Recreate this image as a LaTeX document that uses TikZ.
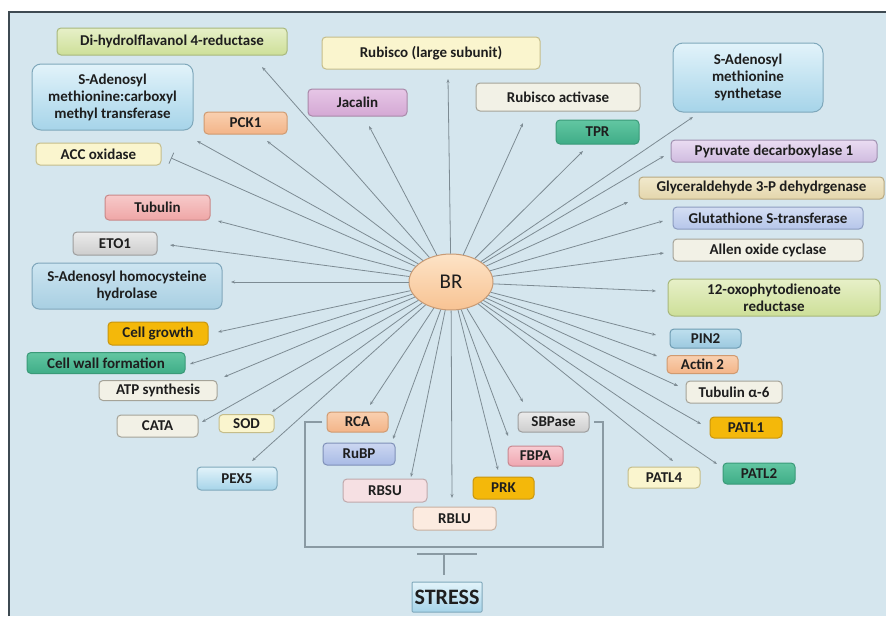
\documentclass[tikz,border=0pt]{standalone}
\usepackage{fontspec}
\setmainfont{Carlito}
\usetikzlibrary{arrows.meta,shapes.geometric}

% palette
\definecolor{bgblue}{HTML}{D5E6EE}
\definecolor{framec}{HTML}{3E4A52}
\definecolor{linec}{HTML}{7D8B93}
\definecolor{txt}{HTML}{1E1E1E}
\definecolor{brkc}{HTML}{8A9AA3}
\definecolor{grnT}{HTML}{E7F0C8}\definecolor{grnB}{HTML}{CDDF98}\definecolor{grnD}{HTML}{A8B87C}
\definecolor{bluT}{HTML}{E2F3FA}\definecolor{bluB}{HTML}{A6D4E9}\definecolor{bluD}{HTML}{7FA8BB}
\definecolor{orgT}{HTML}{F9D0B0}\definecolor{orgB}{HTML}{F3B488}\definecolor{orgD}{HTML}{D09A70}
\definecolor{yelF}{HTML}{FAF5CE}\definecolor{yelD}{HTML}{C5BD8A}
\definecolor{pnkT}{HTML}{F7CACA}\definecolor{pnkB}{HTML}{EFA6A6}\definecolor{pnkD}{HTML}{C98888}
\definecolor{gryT}{HTML}{EBEBEB}\definecolor{gryB}{HTML}{CDCDCD}\definecolor{gryD}{HTML}{9D9D9D}
\definecolor{skyT}{HTML}{CDE5F1}\definecolor{skyB}{HTML}{A8CFE2}\definecolor{skyD}{HTML}{7FA6BB}
\definecolor{gldF}{HTML}{F4B80A}\definecolor{gldD}{HTML}{C8950E}
\definecolor{tlT}{HTML}{62C6A2}\definecolor{tlB}{HTML}{3FAD87}\definecolor{tlD}{HTML}{3A9A78}
\definecolor{whtF}{HTML}{F2F1E6}\definecolor{whtD}{HTML}{A5A398}
\definecolor{lilT}{HTML}{E6C6E6}\definecolor{lilB}{HTML}{D4A8D4}\definecolor{lilD}{HTML}{A888A8}
\definecolor{vioT}{HTML}{EADCF2}\definecolor{vioB}{HTML}{D0BCE0}\definecolor{vioD}{HTML}{A090B0}
\definecolor{tanT}{HTML}{F1E9CC}\definecolor{tanB}{HTML}{E4D6AC}\definecolor{tanD}{HTML}{B8A880}
\definecolor{perT}{HTML}{D4DEF3}\definecolor{perB}{HTML}{B6C6EA}\definecolor{perD}{HTML}{8C9CC0}
\definecolor{pinT}{HTML}{BEDFEE}\definecolor{pinB}{HTML}{9CC9DF}\definecolor{pinD}{HTML}{6E9CB2}
\definecolor{lvbT}{HTML}{CCD7F1}\definecolor{lvbB}{HTML}{A8BAE5}\definecolor{lvbD}{HTML}{7F90B8}
\definecolor{rosT}{HTML}{F8CCD2}\definecolor{rosB}{HTML}{EFA6B0}\definecolor{rosD}{HTML}{C88890}
\definecolor{blsF}{HTML}{F6E0E3}\definecolor{blsD}{HTML}{C0A8AB}
\definecolor{pchF}{HTML}{FCEBE0}\definecolor{pchD}{HTML}{C8B0A0}
\definecolor{hubT}{HTML}{FDE3C6}\definecolor{hubB}{HTML}{F8C393}\definecolor{hubD}{HTML}{C89A74}

\tikzset{
  bx/.style={rounded corners=4pt, line width=1pt, align=center, inner sep=0pt,
             text=txt, font=\bfseries\fontsize{15}{17}\selectfont},
  cgreen/.style={top color=grnT, bottom color=grnB, draw=grnD},
  cblue/.style={top color=bluT, bottom color=bluB, draw=bluD},
  corange/.style={top color=orgT, bottom color=orgB, draw=orgD},
  cyellow/.style={fill=yelF, draw=yelD},
  cpink/.style={top color=pnkT, bottom color=pnkB, draw=pnkD},
  cgray/.style={top color=gryT, bottom color=gryB, draw=gryD},
  csky/.style={top color=skyT, bottom color=skyB, draw=skyD},
  cgold/.style={fill=gldF, draw=gldD},
  cteal/.style={top color=tlT, bottom color=tlB, draw=tlD},
  cwhite/.style={fill=whtF, draw=whtD},
  clilac/.style={top color=lilT, bottom color=lilB, draw=lilD},
  cviolet/.style={top color=vioT, bottom color=vioB, draw=vioD},
  ctan/.style={top color=tanT, bottom color=tanB, draw=tanD},
  cperi/.style={top color=perT, bottom color=perB, draw=perD},
  cpin/.style={top color=pinT, bottom color=pinB, draw=pinD},
  clavb/.style={top color=lvbT, bottom color=lvbB, draw=lvbD},
  crose/.style={top color=rosT, bottom color=rosB, draw=rosD},
  cblush/.style={fill=blsF, draw=blsD},
  cpeach/.style={fill=pchF, draw=pchD},
  conn/.style={draw=linec, line width=0.8pt, -{Stealth[length=4pt,width=3pt]}},
  inhib/.style={draw=linec, line width=0.8pt, -{Bar[width=12pt,line width=0.8pt]}},
  brk/.style={draw=brkc, line width=1.1pt},
}

\begin{document}
\begin{tikzpicture}[x=1pt,y=-1pt]
% page and panel
\fill[white] (0,0) rectangle (886,616);
\useasboundingbox (0,0) rectangle (886,616);
\fill[bgblue] (9,12) rectangle (886,616);
\draw[framec, line width=1.2pt] (9,616) -- (9,12) -- (886,12);

% hub
\node[ellipse, minimum width=84pt, minimum height=56pt, inner sep=0pt,
      top color=hubT, bottom color=hubB, draw=hubD, line width=1pt,
      font=\fontsize{21}{24}\selectfont, text=txt] (BR) at (451,282) {BR};

% targets, left side
\node[bx,cgreen, minimum width=230pt, minimum height=27pt] (dhfr) at (172,41.5) {Di-hydrolflavanol 4-reductase};
\node[bx,cblue, minimum width=161pt, minimum height=66pt, rounded corners=9pt] (samt) at (112.5,97) {S-Adenosyl\\methionine:carboxyl\\methyl transferase};
\node[bx,corange, minimum width=83pt, minimum height=22pt] (pck) at (245.5,123) {PCK1};
\node[bx,cyellow, minimum width=125pt, minimum height=22pt] (acc) at (98.5,154) {ACC oxidase};
\node[bx,cpink, minimum width=105pt, minimum height=25pt] (tub) at (157.5,207.5) {Tubulin};
\node[bx,cgray, minimum width=84pt, minimum height=23pt] (eto) at (115,243.5) {ETO1};
\node[bx,csky, minimum width=190pt, minimum height=46pt, rounded corners=7pt] (sahh) at (127,286) {S-Adenosyl homocysteine\\hydrolase};
\node[bx,cgold, minimum width=100pt, minimum height=23pt] (cg) at (158,333.5) {Cell growth};
\node[bx,cteal, minimum width=158pt, minimum height=21pt] (cw) at (106,363) {Cell wall formation};
\node[bx,cwhite, minimum width=118pt, minimum height=20pt] (atp) at (158,390.5) {ATP synthesis};
\node[bx,cwhite, minimum width=81pt, minimum height=22pt] (cata) at (157.5,426) {CATA};
\node[bx,cyellow, minimum width=55pt, minimum height=18pt] (sod) at (246.5,423.5) {SOD};
\node[bx,cblue, minimum width=80pt, minimum height=23pt] (pex) at (237,478.5) {PEX5};

% targets, top
\node[bx,cyellow, minimum width=218pt, minimum height=32pt] (rl) at (431,53) {Rubisco (large subunit)};
\node[bx,clilac, minimum width=99pt, minimum height=27pt] (jac) at (357.5,102.5) {Jacalin};
\node[bx,cwhite, minimum width=164pt, minimum height=28pt] (ra) at (558,97) {Rubisco activase};
\node[bx,cteal, minimum width=83pt, minimum height=24pt] (tpr) at (597.5,132) {TPR};

% targets, right side
\node[bx,cblue, minimum width=150pt, minimum height=69pt, rounded corners=10pt] (sams) at (748,77.5) {S-Adenosyl\\methionine\\synthetase};
\node[bx,cviolet, minimum width=206pt, minimum height=22pt] (pdc) at (774,151) {Pyruvate decarboxylase 1};
\node[bx,ctan, minimum width=245pt, minimum height=22pt] (gapdh) at (761.5,188) {Glyceraldehyde 3-P dehydrgenase};
\node[bx,cperi, minimum width=190pt, minimum height=22pt] (gst) at (768,218) {Glutathione S-transferase};
\node[bx,cwhite, minimum width=190pt, minimum height=22pt] (aoc) at (768,250) {Allen oxide cyclase};
\node[bx,cgreen, minimum width=212pt, minimum height=37pt, rounded corners=6pt] (opr) at (774,297.5) {12-oxophytodienoate\\reductase};
\node[bx,cpin, minimum width=71pt, minimum height=19pt] (pin) at (705.5,338.5) {PIN2};
\node[bx,corange, minimum width=71pt, minimum height=18pt] (act) at (702.5,364.5) {Actin 2};
\node[bx,cwhite, minimum width=96pt, minimum height=22pt] (tub6) at (734,392) {Tubulin α-6};
\node[bx,cgold, minimum width=72pt, minimum height=21pt] (patlA) at (746,427.5) {PATL1};
\node[bx,cyellow, minimum width=72pt, minimum height=21pt] (patlD) at (664,477.5) {PATL4};
\node[bx,cteal, minimum width=72pt, minimum height=21pt] (patlB) at (759,473.5) {PATL2};

% stress-responsive group
\node[bx,corange, minimum width=61pt, minimum height=20pt] (rca) at (357.5,422) {RCA};
\node[bx,cgray, minimum width=71pt, minimum height=20pt] (sbp) at (553.5,422) {SBPase};
\node[bx,clavb, minimum width=72pt, minimum height=22pt] (rubp) at (359,454) {RuBP};
\node[bx,crose, minimum width=55pt, minimum height=20pt] (fbpa) at (535.5,456) {FBPA};
\node[bx,cblush, minimum width=84pt, minimum height=23pt] (rbsu) at (385,490.5) {RBSU};
\node[bx,cgold, minimum width=61pt, minimum height=22pt] (prk) at (503.5,488) {PRK};
\node[bx,cpeach, minimum width=83pt, minimum height=23pt] (rblu) at (454.5,518.5) {RBLU};
\node[bx,cblue, rounded corners=1pt, minimum width=70pt, minimum height=30pt,
      font=\bfseries\fontsize{22}{24}\selectfont] (stress) at (447,597) {STRESS};

% arrow tips of the connectors
\coordinate (t-dhfr) at (262,67);
\coordinate (t-samt) at (197,141);
\coordinate (t-pck) at (267,141);
\coordinate (t-acc) at (171,158);
\coordinate (t-tub) at (218,221);
\coordinate (t-eto) at (170,245);
\coordinate (t-sahh) at (231,282);
\coordinate (t-cg) at (218,332);
\coordinate (t-cw) at (190,364);
\coordinate (t-atp) at (224,377);
\coordinate (t-cata) at (202,422);
\coordinate (t-sod) at (272,412);
\coordinate (t-pex) at (252,461);
\coordinate (t-rl) at (448,79);
\coordinate (t-jac) at (369,126);
\coordinate (t-ra) at (523,123);
\coordinate (t-tpr) at (583,151);
\coordinate (t-sams) at (693,117);
\coordinate (t-pdc) at (664,156);
\coordinate (t-gapdh) at (628,202);
\coordinate (t-gst) at (663,221);
\coordinate (t-aoc) at (664,253);
\coordinate (t-opr) at (656,291);
\coordinate (t-pin) at (656,335);
\coordinate (t-act) at (657,356);
\coordinate (t-tub6) at (678,386);
\coordinate (t-patlA) at (701,424);
\coordinate (t-patlD) at (673,461);
\coordinate (t-patlB) at (717,464);
\coordinate (t-rca) at (370,405);
\coordinate (t-sbp) at (523,402);
\coordinate (t-rubp) at (393,439);
\coordinate (t-fbpa) at (508,436);
\coordinate (t-rbsu) at (411,477);
\coordinate (t-prk) at (498,470);
\coordinate (t-rblu) at (452,498);

% connectors from BR
\foreach \t in {dhfr,samt,pck,tub,eto,sahh,cg,cw,atp,cata,sod,pex,rl,jac,ra,tpr,
                sams,pdc,gapdh,gst,aoc,opr,pin,act,tub6,patlA,patlD,patlB,
                rca,sbp,rubp,fbpa,rbsu,prk,rblu}
  \draw[conn] (BR) -- (t-\t);
\draw[inhib] (BR) -- (t-acc);

% bracket around the photosynthesis group, and the bar from STRESS
\coordinate (k1) at (322,422);
\coordinate (k2) at (305,547);
\coordinate (k3) at (603,547);
\coordinate (k4) at (594,422);
\draw[brk] (k1) -- (k1 -| k2) -- (k2) -- (k3) -- (k3 |- k4) -- (k4);
\coordinate (bl) at (417,554);
\coordinate (br) at (477,554);
\coordinate (bm) at (444,554);
\coordinate (bs) at (444,575);
\draw[brk] (bl) -- (br);
\draw[brk] (bm) -- (bs);
\end{tikzpicture}
\end{document}
